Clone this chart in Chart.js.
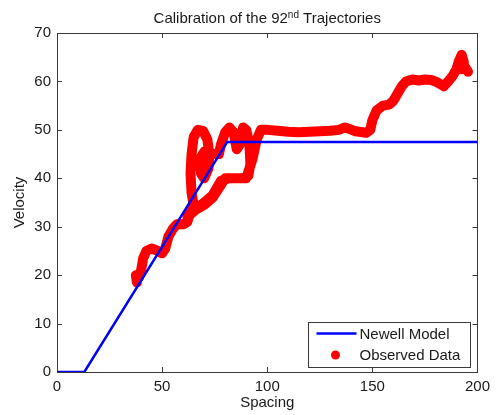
<!DOCTYPE html>
<html>
<head>
<meta charset="utf-8">
<title>Calibration of the 92nd Trajectories</title>
<script src="https://cdn.jsdelivr.net/npm/chart.js@4.4.0/dist/chart.umd.min.js"></script>
<style>
    html, body { margin: 0; padding: 0; background: #fff; }
</style>
</head>
<body>
<canvas id="chart" width="496" height="415"></canvas>
<script>
// ====== Data ======
const xTickValues = [0, 50, 100, 150, 200];
const yTickValues = [0, 10, 20, 30, 40, 50, 60, 70];

// Newell model: free-flow speed ~47.5, jam spacing ~13
const newellSpacing = [0, 13, 81, 200];
const newellVelocity = [0, 0, 47.5, 47.5];

// Observed trajectory (spacing vs velocity), in time order
const obsSpacing = [
    38, 37.5, 39, 40, 41, 42.5, 45, 48, 50, 51.5, 53, 55, 57, 60, 62, 63, 65,
    64, 63.5, 64, 65, 67, 69.5, 71.5, 72.5, 72, 70, 68.5, 68, 70,
    74, 77, 78, 80, 82, 84, 85.5, 87, 88.5, 90, 91.5, 92, 91,
    88, 82, 78, 76, 74, 70, 67, 64, 62, 66, 70, 74, 77, 80, 86, 90, 93, 95, 97,
    100, 105, 110, 115, 120, 125, 130, 134, 137, 139, 142, 147, 149, 150,
    152, 155, 158, 160, 162, 164, 166, 169, 172, 175, 178, 181, 184, 186,
    188, 190, 191, 192.5, 193.5, 192.5, 194, 195.5
];
const obsVelocity = [
    18.5, 20, 19.5, 21, 23.5, 25, 25.5, 25, 24.5, 25.5, 28, 29.5, 30.5, 30.5, 31, 32.5, 34.5,
    37, 41, 45, 48.5, 50, 49.8, 48, 45, 42, 40, 41, 44, 45.5,
    45, 45, 47, 49.5, 50.5, 49.5, 46, 47, 50.5, 50, 47, 43, 40.5,
    40, 40, 39.5, 38, 36.5, 35, 34, 33.5, 32, 33.5, 34.5, 36, 38, 40, 40, 40, 44, 48, 50,
    50, 49.8, 49.6, 49.5, 49.6, 49.7, 49.8, 50, 50.5, 50.2, 49.7, 49.4, 50, 52,
    54, 55, 55.2, 56, 57.5, 59, 60, 60.4, 60.2, 60.4, 60.3, 59.8, 59, 60,
    61, 62.5, 64, 65.5, 64, 62.5, 63, 62
];

// ====== Styling ======
const FONT_FAMILY = "'Liberation Sans', Arial, sans-serif";
const TEXT_COLOR = "#1a1a1a";
const AXIS_COLOR = "#3a3a3a";
const BLUE = "#0000ff";
const RED = "#ff0000";

const toPoints = (xs, ys) => xs.map((x, i) => ({ x, y: ys[i] }));

// MATLAB-like box with inward ticks on all four sides
const framePlugin = {
    id: "frame",
    afterDatasetsDraw(chart) {
        const { ctx, chartArea: a, scales } = chart;
        const len = 5;
        ctx.save();
        ctx.strokeStyle = AXIS_COLOR;
        ctx.lineWidth = 1;
        ctx.beginPath();
        scales.x.ticks.forEach((t) => {
            const px = Math.round(scales.x.getPixelForValue(t.value)) + 0.5;
            ctx.moveTo(px, a.bottom);
            ctx.lineTo(px, a.bottom - len);
            ctx.moveTo(px, a.top);
            ctx.lineTo(px, a.top + len);
        });
        scales.y.ticks.forEach((t) => {
            const py = Math.round(scales.y.getPixelForValue(t.value)) + 0.5;
            ctx.moveTo(a.left, py);
            ctx.lineTo(a.left + len, py);
            ctx.moveTo(a.right, py);
            ctx.lineTo(a.right - len, py);
        });
        ctx.stroke();
        ctx.strokeRect(Math.round(a.left) + 0.5, Math.round(a.top) + 0.5,
            Math.round(a.right - a.left), Math.round(a.bottom - a.top));
        ctx.restore();
    }
};

// Title with superscript "nd"
const titlePlugin = {
    id: "supTitle",
    afterDraw(chart) {
        const { ctx, chartArea: a } = chart;
        const parts = [
            { text: "Calibration of the 92", size: 15, rise: 0 },
            { text: "nd", size: 10, rise: 5 },
            { text: " Trajectories", size: 15, rise: 0 }
        ];
        ctx.save();
        ctx.fillStyle = TEXT_COLOR;
        ctx.textBaseline = "alphabetic";
        ctx.textAlign = "left";
        let total = 0;
        parts.forEach((p) => {
            ctx.font = `${p.size}px ${FONT_FAMILY}`;
            p.w = ctx.measureText(p.text).width;
            total += p.w;
        });
        let x = (a.left + a.right) / 2 - total / 2;
        const base = 23;
        parts.forEach((p) => {
            ctx.font = `${p.size}px ${FONT_FAMILY}`;
            ctx.fillText(p.text, x, base - p.rise);
            x += p.w;
        });
        ctx.restore();
    }
};

// Legend box in the lower right corner of the axes
const legendPlugin = {
    id: "boxLegend",
    afterDraw(chart) {
        const { ctx, chartArea: a } = chart;
        const ds = chart.data.datasets;
        const boxW = 162, boxH = 45;
        const bx = a.right - 7 - boxW;
        const by = a.bottom - 5 - boxH;
        ctx.save();
        ctx.fillStyle = "#fff";
        ctx.fillRect(bx, by, boxW, boxH);
        ctx.strokeStyle = AXIS_COLOR;
        ctx.lineWidth = 1;
        ctx.strokeRect(Math.round(bx) + 0.5, Math.round(by) + 0.5, boxW, boxH);

        ctx.font = `15px ${FONT_FAMILY}`;
        ctx.fillStyle = TEXT_COLOR;
        ctx.textBaseline = "middle";
        const rowY = [by + 11.5, by + 33];
        const textX = bx + 51;

        // row 1: line sample
        ctx.strokeStyle = ds[0].borderColor;
        ctx.lineWidth = 2.5;
        ctx.beginPath();
        ctx.moveTo(bx + 8, rowY[0]);
        ctx.lineTo(bx + 48, rowY[0]);
        ctx.stroke();
        ctx.fillText(ds[0].label, textX, rowY[0] + 1);

        // row 2: marker sample
        ctx.fillStyle = ds[1].borderColor;
        ctx.beginPath();
        ctx.arc(bx + 27, rowY[1], 4.5, 0, Math.PI * 2);
        ctx.fill();
        ctx.fillStyle = TEXT_COLOR;
        ctx.fillText(ds[1].label, textX, rowY[1] + 1);
        ctx.restore();
    }
};

const tickFont = { family: FONT_FAMILY, size: 15 };

new Chart(document.getElementById("chart").getContext("2d"), {
    type: "scatter",
    data: {
        datasets: [
            {
                label: "Newell Model",
                data: toPoints(newellSpacing, newellVelocity),
                showLine: true,
                borderColor: BLUE,
                backgroundColor: BLUE,
                borderWidth: 2.5,
                pointRadius: 0,
                tension: 0,
                order: 0
            },
            {
                label: "Observed Data",
                data: toPoints(obsSpacing, obsVelocity),
                showLine: true,
                borderColor: RED,
                backgroundColor: RED,
                borderWidth: 10,
                borderCapStyle: "round",
                borderJoinStyle: "round",
                pointRadius: 0,
                tension: 0,
                order: 1
            }
        ]
    },
    options: {
        responsive: false,
        animation: false,
        events: [],
        layout: { padding: { left: 0, right: 10, top: 33, bottom: 0 } },
        plugins: {
            legend: { display: false },
            tooltip: { enabled: false },
            title: { display: false }
        },
        scales: {
            x: {
                type: "linear",
                min: 0,
                max: 200,
                afterBuildTicks: (s) => { s.ticks = xTickValues.map((v) => ({ value: v })); },
                afterFit: (s) => { s.height = 43; },
                grid: { display: false, drawTicks: false },
                border: { display: false },
                ticks: { padding: 6, font: tickFont, color: TEXT_COLOR, maxRotation: 0 },
                title: {
                    display: true,
                    text: "Spacing",
                    font: tickFont,
                    color: TEXT_COLOR,
                    padding: { top: 0, bottom: 3 }
                }
            },
            y: {
                type: "linear",
                min: 0,
                max: 70,
                afterBuildTicks: (s) => { s.ticks = yTickValues.map((v) => ({ value: v })); },
                afterFit: (s) => { s.width = 57; },
                grid: { display: false, drawTicks: false },
                border: { display: false },
                ticks: { padding: 6, font: tickFont, color: TEXT_COLOR },
                title: {
                    display: true,
                    text: "Velocity",
                    font: tickFont,
                    color: TEXT_COLOR,
                    padding: { top: 11, bottom: 0 }
                }
            }
        }
    },
    plugins: [framePlugin, titlePlugin, legendPlugin]
});
</script>
</body>
</html>
